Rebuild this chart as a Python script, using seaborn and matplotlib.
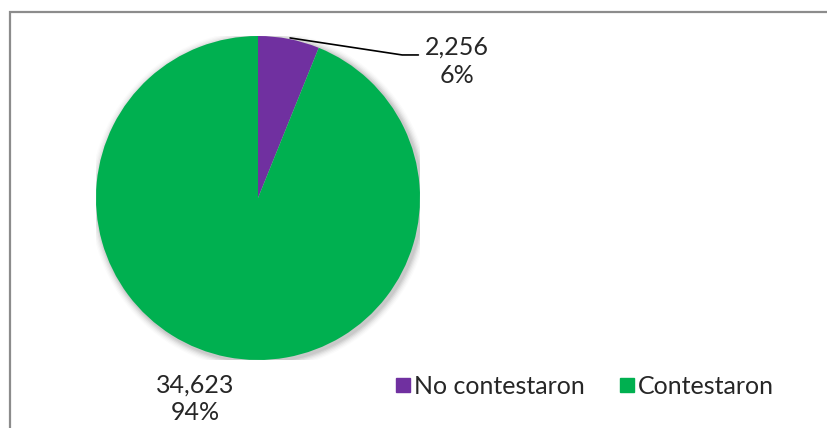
import numpy as np
import matplotlib.pyplot as plt
import seaborn as sns
from matplotlib.patches import Circle, Rectangle
from matplotlib.lines import Line2D

# data
categories = ['No contestaron', 'Contestaron']
values = [2256, 34623]
colors = ['#7030A0', '#00B050']

sns.set_theme(style='white')
plt.rcParams['font.family'] = ['Lato', 'DejaVu Sans']

W, H = 827, 428
fig = plt.figure(figsize=(W / 100, H / 100), dpi=100)
fig.patch.set_facecolor('white')

# chart frame (cut off at right and bottom)
frame = Rectangle((10 / W, -0.1), 1.2, (H - 12) / H + 0.1, transform=fig.transFigure,
                  fill=False, edgecolor='#8c8c8c', linewidth=1.6)
fig.patches.append(frame)

# pie axes: centre (258,198) px, radius 162 px
cx, cy, r = 258, 198, 162
ax = fig.add_axes([(cx - r) / W, (H - cy - r) / H, 2 * r / W, 2 * r / H])

# soft shadow
for i, a in enumerate(np.linspace(0.06, 0.015, 6)):
    ax.add_patch(Circle((0.012, -0.012), 1.0 + 0.008 * (i + 1), color='black',
                        alpha=a, lw=0, zorder=0))

total = sum(values)
wedges, _ = ax.pie(values, colors=colors, startangle=90, counterclock=False,
                   radius=1, wedgeprops=dict(linewidth=0))
for w in wedges:
    w.set_zorder(2)
ax.set_xlim(-1, 1)
ax.set_ylim(-1, 1)
ax.set_aspect('equal')
ax.axis('off')

fs = 18
pct = [v / total * 100 for v in values]
ax.text(1.228, 0.844, f'{values[0]:,}\n{pct[0]:.0f}%', ha='center', va='center',
        fontsize=fs, linespacing=1.25, clip_on=False)
ax.text(-0.389, -1.24, f'{values[1]:,}\n{pct[1]:.0f}%', ha='center', va='center',
        fontsize=fs, linespacing=1.25, clip_on=False)

# leader line for the small slice
ax.plot([0.198, 0.89, 0.99], [0.988, 0.883, 0.883], color='black', lw=1.2,
        clip_on=False, zorder=3)

handles = [Line2D([0], [0], marker='s', linestyle='', markersize=10,
                  markerfacecolor=c, markeredgecolor=c) for c in colors]
fig.legend(handles, categories, loc='center left', bbox_to_anchor=(395 / W, (H - 386) / H),
           ncol=2, frameon=False, fontsize=fs, handlelength=0.6, handletextpad=0.15,
           columnspacing=1.4, borderpad=0, borderaxespad=0)

fig.savefig('out.png', dpi=100)
